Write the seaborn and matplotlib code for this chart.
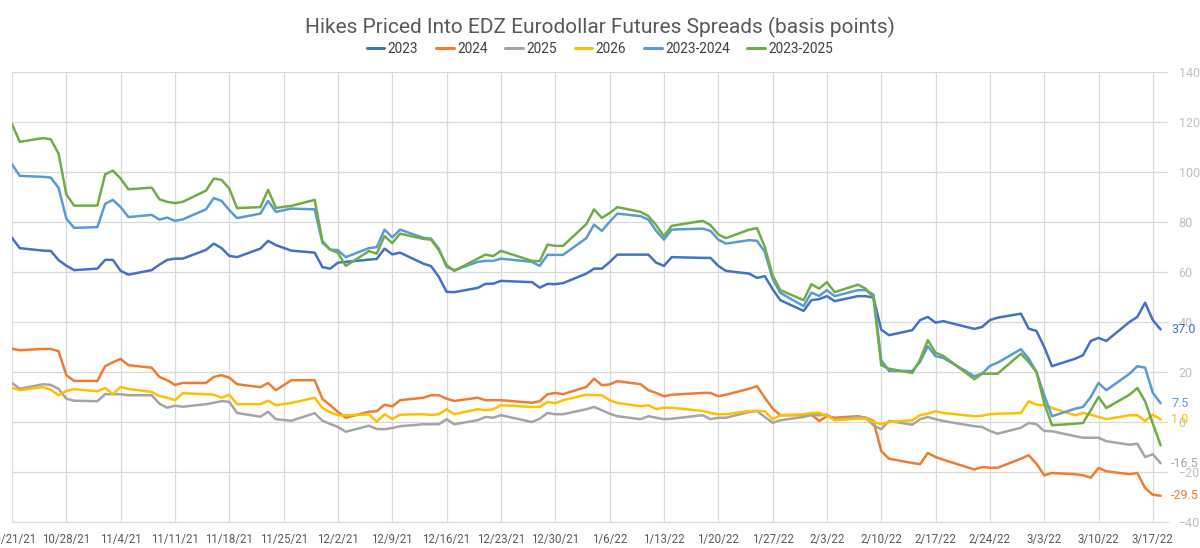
import matplotlib
matplotlib.use("Agg")
import matplotlib.pyplot as plt
import matplotlib.transforms as mtransforms
import numpy as np
import pandas as pd
import seaborn as sns

# business days, exchange holidays dropped
holidays = ["2021-11-25", "2021-12-24", "2022-01-17", "2022-02-21"]
dates = pd.bdate_range("2021-10-21", "2022-03-18")
dates = dates[~dates.isin(pd.to_datetime(holidays))]

# one row per week in the source
s2023 = [73.6, 69.5,
         68.5, 68.4, 64.7, 62.5, 60.7,
         61.3, 64.8, 64.8, 60.4, 58.9,
         60.7, 62.9, 64.8, 65.3, 65.3,
         68.8, 71.3, 69.5, 66.4, 65.9,
         69.3, 72.4, 70.7, 68.5,
         67.7, 61.9, 61.3, 63.7, 64.0,
         64.9, 65.2, 69.3, 67.0, 67.7,
         63.3, 62.3, 58.0, 52.0, 51.9,
         53.6, 55.2, 55.3, 56.4,
         55.9, 53.7, 55.2, 55.1, 55.5,
         59.3, 61.3, 61.3, 63.9, 66.9,
         66.9, 66.9, 63.7, 62.4, 65.9,
         65.6, 65.6, 62.4, 60.4,
         59.3, 57.6, 58.3, 53.1, 48.7,
         44.4, 48.7, 49.1, 50.3, 48.3,
         50.3, 50.3, 49.7, 36.9, 34.7,
         36.7, 40.7, 42.0, 39.7, 40.3,
         37.2, 38.0, 40.7, 41.7,
         43.3, 37.3, 36.4, 30.0, 22.3,
         25.3, 26.7, 32.4, 33.6, 32.4,
         40.0, 42.0, 47.7, 40.7, 37.0]

s2024 = [29.3, 28.7,
         29.2, 29.2, 28.3, 18.7, 16.4,
         16.4, 22.3, 23.9, 25.2, 22.7,
         21.7, 18.0, 16.7, 14.8, 15.6,
         15.6, 18.0, 18.7, 17.7, 15.1,
         13.9, 15.6, 12.7, 16.7,
         16.7, 9.2, 6.7, 4.0, 1.7,
         4.1, 4.3, 6.9, 6.2, 8.7,
         9.7, 10.7, 10.7, 9.3, 8.4,
         9.7, 8.7, 8.7, 8.7,
         7.7, 8.3, 11.1, 11.6, 11.1,
         14.0, 17.3, 14.7, 15.0, 16.3,
         15.1, 12.7, 11.6, 10.3, 10.9,
         11.6, 11.6, 10.3, 10.9,
         13.3, 14.3, 9.7, 5.4, 2.7,
         2.7, 3.0, 0.4, 2.3, 1.7,
         2.3, 1.7, 0.4, -11.6, -14.7,
         -16.4, -16.9, -12.4, -14.0, -15.1,
         -19.0, -18.0, -18.3, -18.3,
         -14.7, -13.3, -16.7, -21.3, -20.4,
         -20.9, -21.3, -22.3, -18.4, -19.7,
         -20.9, -20.4, -26.4, -29.1, -29.5]

s2025 = [15.6, 13.3,
         15.1, 14.8, 13.2, 9.3, 8.5,
         8.3, 11.1, 11.1, 11.1, 10.7,
         10.7, 7.3, 5.7, 6.5, 6.1,
         7.1, 7.7, 8.3, 8.1, 3.6,
         2.1, 4.1, 1.1, 0.5,
         3.5, 0.5, -0.8, -2.0, -3.9,
         -1.5, -2.8, -2.9, -2.4, -1.7,
         -0.9, -0.9, -0.9, 1.1, -0.9,
         0.7, 2.0, 1.7, 2.7,
         0.0, 1.3, 3.6, 3.1, 3.1,
         5.1, 6.0, 4.7, 3.3, 2.3,
         1.1, 2.3, 1.7, 1.1, 1.3,
         2.7, 1.1, 1.7, 1.7,
         4.0, 4.4, 2.0, -0.3, 0.7,
         2.0, 2.7, 2.7, 2.9, 0.9,
         2.0, 1.7, -1.3, -2.9, 0.4,
         -1.1, 1.1, 2.0, 1.1, 0.4,
         -1.7, -2.0, -3.6, -4.7,
         -2.3, -0.4, -0.9, -3.6, -3.7,
         -5.7, -6.3, -6.3, -6.3, -7.7,
         -9.1, -8.7, -14.0, -12.9, -16.5]

s2026 = [13.7, 12.7,
         14.0, 12.9, 10.7, 12.4, 13.1,
         12.3, 13.6, 11.1, 14.0, 13.2,
         12.0, 10.4, 9.7, 8.7, 11.5,
         11.1, 10.9, 9.7, 10.9, 7.1,
         7.1, 8.5, 6.7, 7.6,
         9.7, 5.6, 3.9, 2.7, 2.7,
         3.0, 0.1, 3.1, 1.2, 2.9,
         3.1, 2.8, 3.1, 5.1, 3.1,
         5.1, 4.7, 5.1, 6.7,
         6.0, 6.0, 8.0, 7.5, 8.7,
         10.9, 10.7, 10.7, 8.7, 7.6,
         6.3, 6.7, 5.1, 5.7, 5.7,
         4.4, 3.6, 3.1, 3.1,
         4.4, 4.4, 4.3, 1.1, 2.7,
         3.1, 3.6, 3.7, 2.4, 0.7,
         1.3, 1.3, 0.0, -0.9, 0.0,
         0.7, 2.7, 3.3, 4.3, 3.6,
         2.3, 2.5, 3.1, 3.3,
         3.6, 8.3, 6.9, 6.7, 5.6,
         2.7, 3.6, 2.9, 2.0, 1.1,
         2.7, 2.7, 0.4, 2.9, 1.0]

s2023_2024 = [103.0, 98.4,
              98.0, 97.7, 93.6, 81.3, 77.6,
              77.9, 87.2, 88.8, 85.9, 81.9,
              82.8, 80.9, 81.7, 80.4, 81.0,
              85.0, 89.5, 88.4, 84.7, 81.5,
              83.3, 88.4, 84.0, 85.3,
              85.0, 71.6, 68.9, 68.7, 65.9,
              69.5, 69.9, 76.9, 73.8, 76.9,
              73.6, 73.3, 69.3, 62.0, 60.7,
              64.0, 64.4, 64.4, 65.3,
              64.0, 62.4, 66.8, 66.8, 66.8,
              73.5, 78.9, 76.4, 80.0, 83.3,
              82.3, 80.9, 76.4, 72.9, 76.9,
              77.3, 76.4, 72.9, 71.3,
              72.7, 72.4, 68.0, 57.3, 51.6,
              46.3, 51.7, 50.4, 52.7, 50.3,
              52.7, 52.7, 50.9, 24.7, 20.4,
              20.4, 24.0, 30.3, 26.3, 25.6,
              18.3, 19.3, 22.4, 23.7,
              29.1, 25.3, 20.0, 10.7, 2.3,
              5.3, 6.0, 10.0, 15.6, 12.7,
              19.3, 22.3, 21.7, 11.6, 7.5]

s2023_2025 = [119.1, 112.0,
              113.5, 113.0, 107.3, 91.0, 86.5,
              86.5, 99.0, 100.5, 97.3, 93.0,
              93.7, 89.0, 88.0, 87.5, 88.0,
              92.5, 97.3, 96.8, 93.3, 85.5,
              85.9, 92.8, 85.6, 86.4,
              88.8, 72.3, 68.9, 67.6, 62.4,
              68.3, 67.3, 74.3, 71.5, 75.3,
              73.2, 72.9, 68.7, 62.7, 60.4,
              65.3, 66.9, 66.3, 68.4,
              64.4, 64.3, 70.9, 70.4, 70.4,
              79.1, 85.0, 81.6, 83.5, 85.9,
              84.0, 82.3, 78.7, 74.3, 78.4,
              80.4, 78.7, 75.0, 73.5,
              76.9, 77.5, 70.0, 58.7, 52.7,
              48.7, 55.1, 53.3, 55.9, 51.9,
              54.9, 53.3, 49.7, 22.7, 21.3,
              19.6, 24.9, 32.7, 27.7, 26.4,
              17.1, 19.3, 19.3, 19.3,
              27.3, 24.0, 20.0, 7.6, -1.3,
              -0.7, -0.4, 4.7, 10.0, 5.6,
              10.9, 13.6, 8.3, -0.7, -9.3]

series_names = ["2023", "2024", "2025", "2026", "2023-2024", "2023-2025"]
series_values = [s2023, s2024, s2025, s2026, s2023_2024, s2023_2025]
colors = ["#4472C4", "#ED7D31", "#A5A5A5", "#FFC000", "#5B9BD5", "#70AD47"]
labelled = ["2023", "2024", "2025", "2026", "2023-2024"]

df = pd.concat(
    [pd.DataFrame({"date": dates, "value": v, "series": n})
     for n, v in zip(series_names, series_values)],
    ignore_index=True,
)

sns.set_style("white")
plt.rcParams["font.family"] = ["Roboto", "DejaVu Sans"]

fig = plt.figure(figsize=(12, 5.48), dpi=100)
ax = fig.add_axes([0.01, 0.0474, 0.963, 0.8216])

sns.lineplot(data=df, x="date", y="value", hue="series", hue_order=series_names,
             palette=dict(zip(series_names, colors)), linewidth=1.8, ax=ax,
             legend=False)

start = dates[0]
ax.set_xlim(start, start + pd.Timedelta(days=148.9))
ax.set_ylim(-40, 140)
ax.set_yticks(np.arange(-40, 141, 20))
ticks = pd.date_range("2021-10-21", "2022-03-17", freq="7D")
ax.set_xticks(ticks)
ax.set_xticklabels([f"{t.month}/{t.day}/{t.strftime('%y')}" for t in ticks])

ax.yaxis.tick_right()
ax.tick_params(axis="y", length=0, pad=8, labelsize=9, labelcolor="#BFBFBF")
ax.tick_params(axis="x", length=0, pad=8, labelsize=8.3, labelcolor="#595959")
ax.grid(True, color="#D9D9D9", linewidth=0.9)
ax.set_axisbelow(True)
for side in ["left", "right", "top"]:
    ax.spines[side].set_visible(False)
ax.spines["bottom"].set_color("#D9D9D9")
ax.set_xlabel("")
ax.set_ylabel("")

# end-of-series value labels
trans = mtransforms.blended_transform_factory(ax.transAxes, ax.transData)
for n, v, c in zip(series_names, series_values, colors):
    if n in labelled:
        ax.text(1.003, v[-1], f"{v[-1]:.1f}", color=c, fontsize=9,
                va="center", ha="left", transform=trans)

handles = [plt.Line2D([], [], color=c, linewidth=2.2) for c in colors]
fig.legend(handles, series_names, loc="center", bbox_to_anchor=(0.5, 0.911),
           ncol=6, frameon=False, fontsize=9.8, handlelength=1.3,
           handletextpad=0.25, columnspacing=1.3, labelcolor="#404040")

fig.suptitle("Hikes Priced Into EDZ Eurodollar Futures Spreads (basis points)",
             y=0.97, fontsize=15, color="#595959")

fig.savefig("out.png", dpi=100)
